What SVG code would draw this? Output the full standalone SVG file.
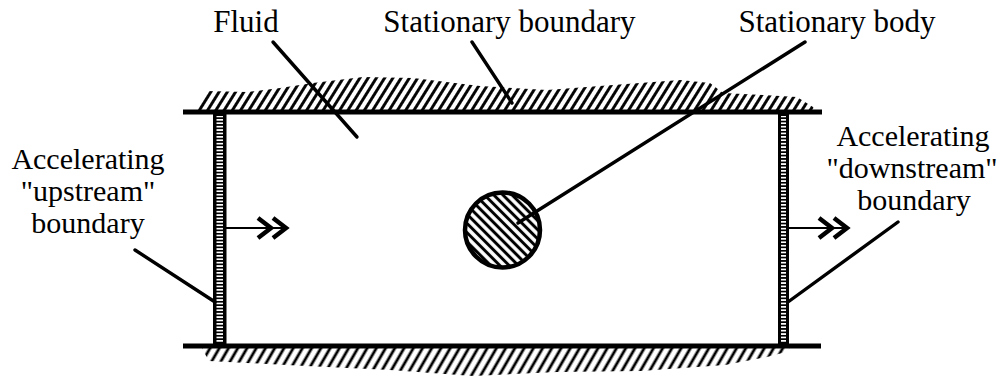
<svg xmlns="http://www.w3.org/2000/svg" width="1006" height="381" viewBox="0 0 1006 381">
<style>
.t{font-family:"Liberation Serif","Times New Roman",serif;font-size:31px;fill:#000;text-anchor:middle}
.s{font-size:30px}
.ld{stroke:#000;stroke-width:3.4;stroke-linecap:round;fill:none}
.wall{stroke:#000;stroke-width:5;fill:none}
.arr{stroke:#000;stroke-width:2.2;fill:none}
.chev{stroke:#000;stroke-width:4.5;fill:none;stroke-linejoin:miter}
</style>
<defs>
<pattern id="hatchT" patternUnits="userSpaceOnUse" width="7" height="30" patternTransform="rotate(32)">
<line x1="3.5" y1="0" x2="3.5" y2="30" stroke="#000" stroke-width="2.9"/>
</pattern>
<pattern id="hatchB" patternUnits="userSpaceOnUse" width="8" height="30" patternTransform="rotate(30)">
<line x1="4" y1="0" x2="4" y2="30" stroke="#000" stroke-width="2.8"/>
</pattern>
<pattern id="hatchC" patternUnits="userSpaceOnUse" width="6.5" height="30" patternTransform="rotate(-45)">
<line x1="3.25" y1="0" x2="3.25" y2="30" stroke="#000" stroke-width="3"/>
</pattern>
<pattern id="dash" patternUnits="userSpaceOnUse" width="20" height="3.4">
<rect x="0" y="0" width="20" height="1.7" fill="#fff"/>
</pattern>
</defs>
<rect width="1006" height="381" fill="#fff"/>

<g id="top-boundary">
<path d="M198,110 L199,102 L206,91 L247,92 L280,88 L313,83 L363,77 L413,78 L480,86 L547,90 L613,85 L680,80 L710,83 L723,93 L763,95 L797,97 L813,107 L815,110 Z" fill="url(#hatchT)"/>
<line class="wall" x1="183" y1="112" x2="822" y2="112"/>
</g>

<g id="bottom-boundary">
<path d="M202,348 L205,354 L209,361 L306,366 L390,370 L473,376 L557,372 L641,371 L725,365 L767,357 L786,352 L790,348 Z" fill="url(#hatchB)"/>
<line class="wall" x1="183" y1="346" x2="821" y2="346"/>
</g>

<g id="upstream-wall">
<rect x="213" y="112" width="13.5" height="234" fill="#000"/>
<rect x="216.5" y="116" width="6.5" height="227" fill="url(#dash)"/>
</g>

<g id="downstream-wall">
<rect x="778" y="112" width="11" height="234" fill="#000"/>
<rect x="781" y="116" width="5" height="227" fill="url(#dash)"/>
</g>

<g id="body">
<circle cx="502.5" cy="230" r="37.5" fill="url(#hatchC)" stroke="#000" stroke-width="4.5"/>
</g>

<g id="connectors">
<line class="arr" x1="226" y1="228" x2="285" y2="228"/>
<polyline class="chev" points="258,218 271,228 258,238"/>
<polyline class="chev" points="273,218 286,228 273,238"/>
<line class="arr" x1="789" y1="228" x2="846" y2="228"/>
<polyline class="chev" points="819,218 832,228 819,238"/>
<polyline class="chev" points="834,218 847,228 834,238"/>
<line class="ld" x1="273" y1="42" x2="357" y2="137"/>
<line class="ld" x1="472" y1="42" x2="512" y2="103"/>
<line class="ld" x1="805" y1="42" x2="518" y2="223"/>
<line class="ld" x1="135" y1="250" x2="215" y2="302"/>
<line class="ld" x1="898" y1="222" x2="788" y2="302"/>
</g>

<g id="labels">
<text class="t" x="246" y="32">Fluid</text>
<text class="t" x="509.5" y="32">Stationary boundary</text>
<text class="t" x="837" y="32">Stationary body</text>
<text class="t s" x="88" y="169">Accelerating</text>
<text class="t s" x="88" y="201">"upstream"</text>
<text class="t s" x="88" y="233">boundary</text>
<text class="t s" x="913" y="146">Accelerating</text>
<text class="t s" x="912" y="178">"downstream"</text>
<text class="t s" x="914" y="210">boundary</text>
</g>
</svg>
